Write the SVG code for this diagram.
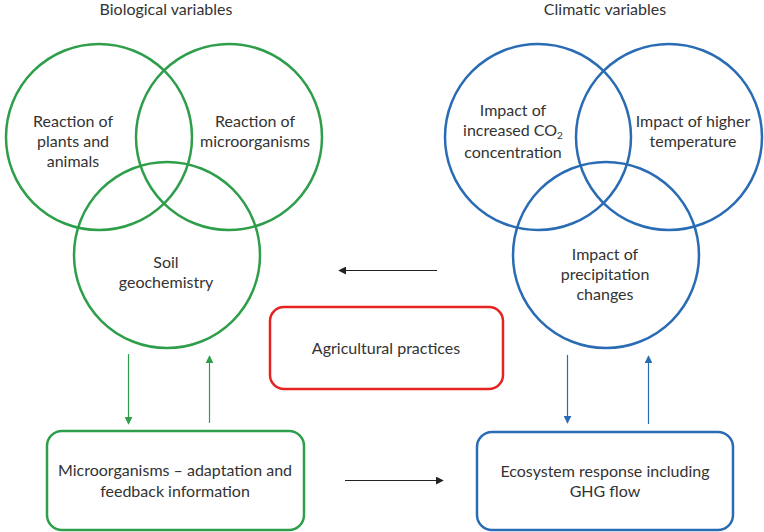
<svg xmlns="http://www.w3.org/2000/svg" width="764" height="532" viewBox="0 0 764 532">
<style>
text{font-family:Lato,"Open Sans","Liberation Sans",sans-serif;font-size:16px;fill:#333;text-anchor:middle}
.g{fill:none;stroke:#2e9e4a;stroke-width:2.5}
.b{fill:none;stroke:#2a6cb3;stroke-width:2.5}
.r{fill:none;stroke:#e52421;stroke-width:2.5}
.ak{stroke:#222;stroke-width:1.2;fill:none}
.ag{stroke:#2e9e4a;stroke-width:1.2;fill:none}
.ab{stroke:#2a6cb3;stroke-width:1.2;fill:none}
</style>
<defs>
<marker id="mk" viewBox="0 0 10 10" refX="9" refY="5" markerWidth="8" markerHeight="8" markerUnits="userSpaceOnUse" orient="auto"><path d="M0,0L10,5L0,10z" fill="#222"/></marker>
<marker id="mg" viewBox="0 0 10 10" refX="9" refY="5" markerWidth="8" markerHeight="8" markerUnits="userSpaceOnUse" orient="auto"><path d="M0,0L10,5L0,10z" fill="#2e9e4a"/></marker>
<marker id="mb" viewBox="0 0 10 10" refX="9" refY="5" markerWidth="8" markerHeight="8" markerUnits="userSpaceOnUse" orient="auto"><path d="M0,0L10,5L0,10z" fill="#2a6cb3"/></marker>
</defs>
<rect width="764" height="532" fill="#fff"/>
<text x="166" y="15">Biological variables</text>
<text x="605" y="15">Climatic variables</text>
<g id="plants"><circle class="g" cx="99" cy="137" r="93"/><text x="73" y="127">Reaction of</text><text x="73" y="147">plants and</text><text x="73" y="167">animals</text></g>
<g id="micro"><circle class="g" cx="229" cy="137" r="93"/><text x="255" y="127">Reaction of</text><text x="255" y="147">microorganisms</text></g>
<g id="soil"><circle class="g" cx="167" cy="255" r="93"/><text x="166" y="268">Soil</text><text x="166" y="288">geochemistry</text></g>
<g id="co2"><circle class="b" cx="538" cy="137" r="93"/><text x="513" y="116">Impact of</text><text x="513" y="136">increased CO<tspan font-size="10" dy="2.5">2</tspan></text><text x="513" y="158">concentration</text></g>
<g id="temp"><circle class="b" cx="669" cy="137" r="93"/><text x="693" y="127">Impact of higher</text><text x="693" y="147">temperature</text></g>
<g id="precip"><circle class="b" cx="606" cy="255" r="93"/><text x="605" y="260">Impact of</text><text x="605" y="280">precipitation</text><text x="605" y="300">changes</text></g>
<g id="agri"><rect class="r" x="270" y="307" width="233" height="82" rx="14"/><text x="386" y="354">Agricultural practices</text></g>
<g id="microbox"><rect class="g" x="47" y="431" width="257" height="99" rx="15"/><text x="175" y="476">Microorganisms – adaptation and</text><text x="175" y="497">feedback information</text></g>
<g id="eco"><rect class="b" x="477" y="432" width="256" height="98" rx="15"/><text x="605" y="477">Ecosystem response including</text><text x="605" y="497">GHG flow</text></g>
<g id="connectors">
<line class="ak" x1="437" y1="270.5" x2="339" y2="270.5" marker-end="url(#mk)"/>
<line class="ak" x1="345" y1="480.5" x2="443" y2="480.5" marker-end="url(#mk)"/>
<line class="ag" x1="128.5" y1="354" x2="128.5" y2="424" marker-end="url(#mg)"/>
<line class="ag" x1="209.5" y1="423" x2="209.5" y2="356" marker-end="url(#mg)"/>
<line class="ab" x1="567.5" y1="355" x2="567.5" y2="423" marker-end="url(#mb)"/>
<line class="ab" x1="648.5" y1="424" x2="648.5" y2="356" marker-end="url(#mb)"/>
</g>
</svg>
